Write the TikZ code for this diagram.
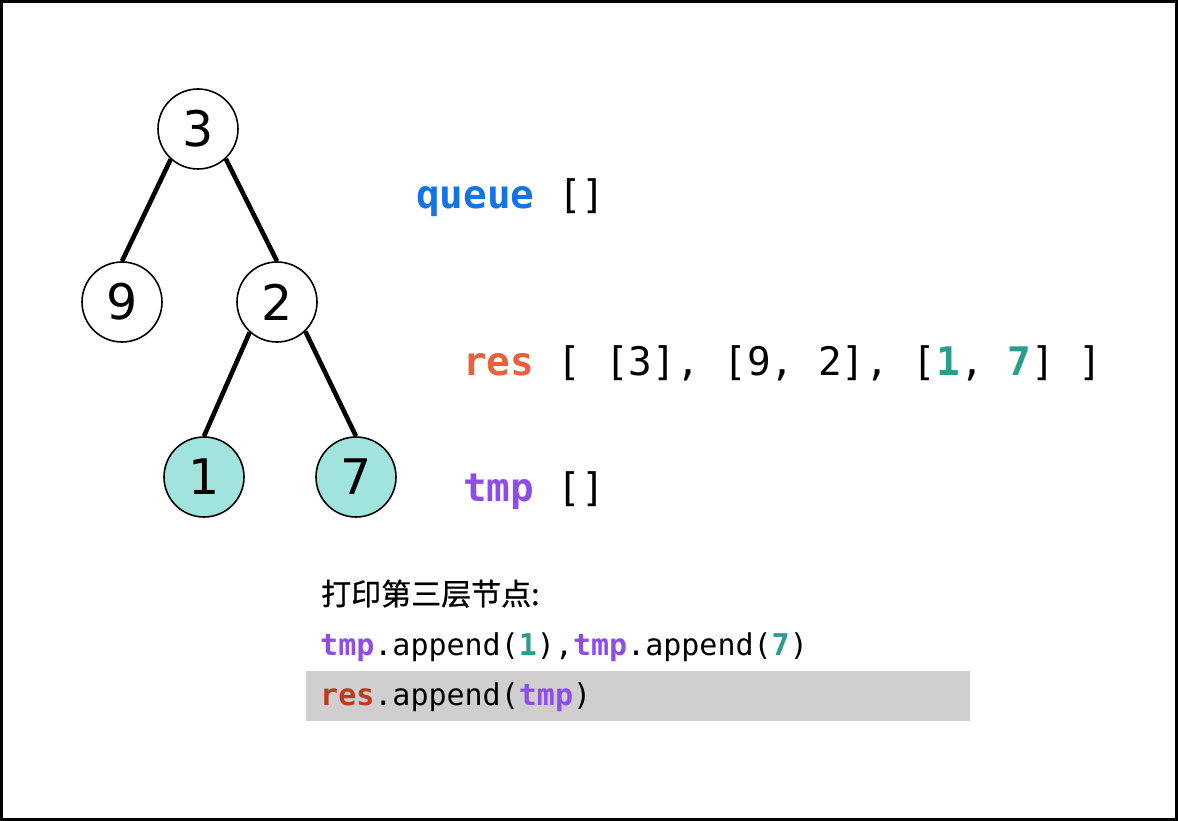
\documentclass[tikz,border=0pt]{standalone}
\usepackage{fontspec}
\setmainfont{DejaVu Sans}
\setmonofont{DejaVu Sans Mono}
\newfontfamily\cjk[FakeBold=0.8]{Noto Sans CJK SC}
\definecolor{qblue}{HTML}{1473E6}
\definecolor{resorange}{HTML}{E8603C}
\definecolor{resdark}{HTML}{C0391B}
\definecolor{tmppurple}{HTML}{8E4DEB}
\definecolor{teal}{HTML}{2A9D8C}
\definecolor{leaf}{HTML}{A0E4DD}
\definecolor{hl}{HTML}{D0CECF}
\tikzset{
  treenode/.style={circle, draw=black, line width=1.6pt, minimum size=80pt, inner sep=0pt, font=\fontsize{49}{49}\selectfont},
  leafnode/.style={treenode, fill=leaf},
  treeedge/.style={line width=4.6pt, black},
  bigcode/.style={anchor=base west, inner sep=0pt, font=\ttfamily\fontsize{39.3}{40}\selectfont},
  smallcode/.style={anchor=base west, inner sep=0pt, font=\ttfamily\fontsize{30}{32}\selectfont},
}
\begin{document}
\begin{tikzpicture}[x=1pt, y=-1pt]
\useasboundingbox (0,0) rectangle (1178,821);
\draw[line width=3pt] (1.5,1.5) rectangle (1176.5,819.5);
% highlight bar
\fill[hl] (306,671) rectangle (970,721);
% tree
\node[treenode] (n3) at (198,129) {3};
\node[treenode] (n9) at (122,302) {9};
\node[treenode] (n2) at (277,302) {2};
\node[leafnode] (n1) at (204,477) {1};
\node[leafnode] (n7) at (356,477) {7};
\draw[treeedge] (n3.228) -- (n9.north);
\draw[treeedge] (n3.313) -- (n2.north);
\draw[treeedge] (n2.228) -- (n1.north);
\draw[treeedge] (n2.314) -- (n7.north);
% state
\node[bigcode] (queue) at (416,209) {\textcolor{qblue}{\bfseries queue} []};
\node[bigcode] (res) at (463,375) {\textcolor{resorange}{\bfseries res} [ [3], [9, 2], [\textcolor{teal}{\bfseries 1}, \textcolor{teal}{\bfseries 7}] ]};
\node[bigcode] (tmp) at (463,501) {\textcolor{tmppurple}{\bfseries tmp} []};
% code
\node[anchor=base west, inner sep=0pt, font=\cjk\fontsize{30}{32}\selectfont] (title) at (321,605) {打印第三层节点:};
\node[smallcode] (line1) at (320,655) {\textcolor{tmppurple}{\bfseries tmp}.append(\textcolor{teal}{\bfseries 1}),\textcolor{tmppurple}{\bfseries tmp}.append(\textcolor{teal}{\bfseries 7})};
\node[smallcode] (line2) at (320,705) {\textcolor{resdark}{\bfseries res}.append(\textcolor{tmppurple}{\bfseries tmp})};
\end{tikzpicture}
\end{document}
